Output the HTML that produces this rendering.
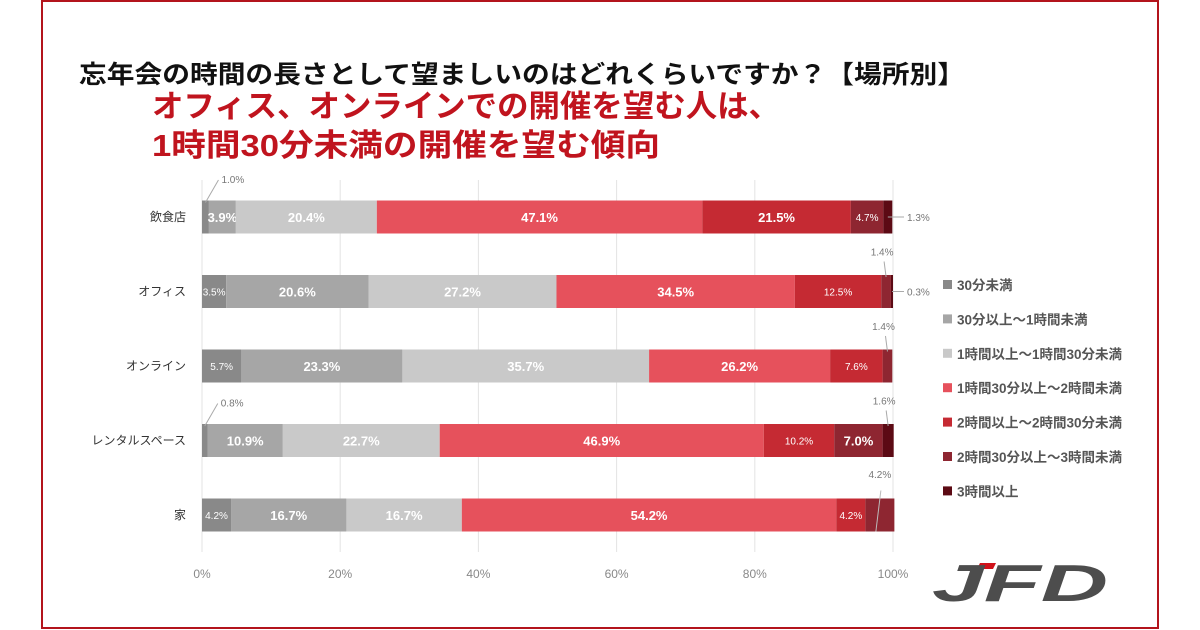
<!DOCTYPE html>
<html><head><meta charset="utf-8">
<style>
body{margin:0;background:#fff;}
#wrap{position:relative;width:1200px;height:630px;overflow:hidden;background:#fff;font-family:"Liberation Sans","Noto Sans CJK JP",sans-serif;}
</style></head>
<body>
<div id="wrap">
<svg id="svg" width="1200" height="630" xmlns="http://www.w3.org/2000/svg" style="position:absolute;left:0;top:0">
<rect x="42" y="1" width="1116" height="627" fill="none" stroke="#b3141c" stroke-width="2"/>
<text x="79" y="83" font-size="25" font-weight="bold" fill="#111" textLength="886" lengthAdjust="spacingAndGlyphs" font-family="Liberation Sans, Noto Sans CJK JP, sans-serif">忘年会の時間の長さとして望ましいのはどれくらいですか？【場所別】</text>
<text x="152" y="117" font-size="31" font-weight="bold" fill="#c0141e" textLength="628" lengthAdjust="spacingAndGlyphs" font-family="Liberation Sans, Noto Sans CJK JP, sans-serif">オフィス、オンラインでの開催を望む人は、</text>
<text x="152" y="156" font-size="31" font-weight="bold" fill="#c0141e" textLength="508" lengthAdjust="spacingAndGlyphs" font-family="Liberation Sans, Noto Sans CJK JP, sans-serif">1時間30分未満の開催を望む傾向</text>
<g id="plot"></g>
<g>
<polygon points="980,563 996,563 993,569 977,569" fill="#d0121b"/>
<text x="932" y="601" font-size="52" font-weight="bold" font-style="italic" fill="#4d4d4d" textLength="176" lengthAdjust="spacingAndGlyphs" font-family="Liberation Sans, sans-serif">JFD</text>
</g>
</svg>
</div>
<script>
const categories=["飲食店","オフィス","オンライン","レンタルスペース","家"];
const seriesNames=["30分未満","30分以上～1時間未満","1時間以上～1時間30分未満","1時間30分以上～2時間未満","2時間以上～2時間30分未満","2時間30分以上～3時間未満","3時間以上"];
const s1=[1.0,3.5,5.7,0.8,4.2];
const s2=[3.9,20.6,23.3,10.9,16.7];
const s3=[20.4,27.2,35.7,22.7,16.7];
const s4=[47.1,34.5,26.2,46.9,54.2];
const s5=[21.5,12.5,7.6,10.2,4.2];
const s6=[4.7,1.4,1.4,7.0,4.2];
const s7=[1.3,0.3,0.0,1.6,0.0];
const ticks=[0,20,40,60,80,100];
const series=[s1,s2,s3,s4,s5,s6,s7];
const colors=["#898989","#a6a6a6","#c9c9c9","#e6515c","#c52a33","#8e2631","#5c0a14"];
const NS="http://www.w3.org/2000/svg";
const g=document.getElementById("plot");
const X0=202,X1=893,Y0=217,DY=74.5,BH=33;
const xs=v=>X0+(X1-X0)*v/100;
const yc=i=>Y0+DY*i;
function mk(t,a){const e=document.createElementNS(NS,t);for(const k in a)e.setAttribute(k,a[k]);g.appendChild(e);return e;}
const FF="Liberation Sans, Noto Sans CJK JP, sans-serif";
ticks.forEach(t=>{
 const l=mk("line",{x1:xs(t),x2:xs(t),y1:180,y2:552,stroke:"#e3e3e3","stroke-width":1});
 
 
 const tx=mk("text",{x:xs(t),y:578,"text-anchor":"middle","font-size":12,fill:"#888","font-family":FF});
 tx.textContent=t+"%";
 
 
});
categories.forEach((c,i)=>{
 const y=yc(i);
 const lb=mk("text",{x:186,y:y+4,"text-anchor":"end","font-size":12,fill:"#333","font-family":FF});
 lb.textContent=c;
 
 
 let acc=0;
 series.forEach((s,j)=>{
  const v=s[i];const xa=xs(acc),xb=xs(acc+v);
  if(v>0){
   const r=mk("rect",{x:xa,y:y-BH/2,width:Math.max(0,xb-xa),height:BH,fill:colors[j]});
   
   
  }
  const outside=(i==4&&j==5);
  if(v>=2&&!outside){
   const big=v>=15||(j==1&&v>=3.8)||(j==5&&v>=7);
   const t=mk("text",{x:(xa+xb)/2,y:y+(big?5:4),"text-anchor":"middle","font-size":big?13:10,"font-weight":big?"bold":"normal",fill:"#fff","font-family":FF});
   t.textContent=v.toFixed(1)+"%";
   
   
  } else if(v>0&&!outside){
   const mx=(xa+xb)/2;let lx,ly,anchor="start";
   if(j==0){lx=mx+16;ly=y-34;}
   else if(j==6&&i!=3){lx=X1+14;ly=y+4;}
   else{lx=mx-4;ly=y-36;anchor="middle";}
   const ln=mk("line",{x1:mx,y1:j==6&&i!=3?y:y-BH/2+2,x2:anchor=="middle"?mx-2:lx-3,y2:anchor=="middle"?ly+6:(j==6&&i!=3?y:ly-3),stroke:"#aaa","stroke-width":1});
   
   
   const t=mk("text",{x:lx,y:ly,"text-anchor":anchor,"font-size":10,fill:"#777","font-family":FF});
   t.textContent=v.toFixed(1)+"%";
   
   
  }
  acc+=v;
 });
});
{const i=4;const y=yc(i);const v=s6[i];const acc=s1[i]+s2[i]+s3[i]+s4[i]+s5[i];const mx=xs(acc+v/2);
 const ln=mk("line",{x1:mx-4,y1:y+BH/2,x2:mx+1,y2:y-BH/2-8,stroke:"#bbb","stroke-width":1});
 
 
 const t=mk("text",{x:mx,y:y-37,"text-anchor":"middle","font-size":10,fill:"#777","font-family":FF});
 t.textContent=v.toFixed(1)+"%";
 
 }
seriesNames.forEach((n,j)=>{
 const y=285+34.4*j;
 const r=mk("rect",{x:943,y:y-5,width:9,height:9,fill:colors[j]});
 
 
 const t=mk("text",{x:957,y:y+5,"font-size":13.5,"font-weight":"bold",fill:"#555","font-family":FF});
 t.textContent=n;
 
 
});
</script>
</body></html>
